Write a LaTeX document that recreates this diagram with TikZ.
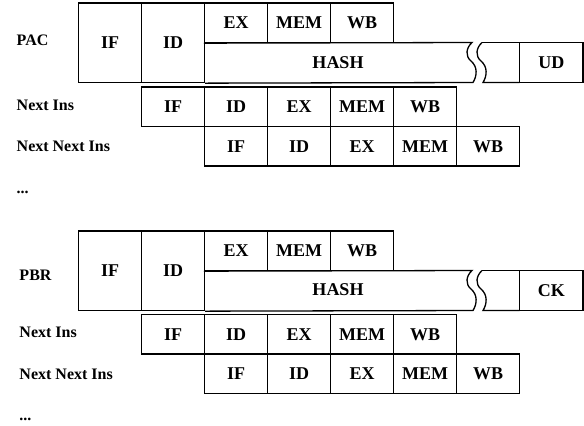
\documentclass[tikz,border=0pt]{standalone}
\usepackage{fontspec}
\setmainfont{Liberation Serif}
\begin{document}
\begin{tikzpicture}[x=1bp,y=-1bp,
  cell/.style={draw, line width=1.3bp, minimum width=63bp, minimum height=39.5bp, inner sep=0pt,
    font=\fontsize{18bp}{20bp}\selectfont\bfseries},
  tall/.style={cell, minimum height=79.5bp},
  txt/.style={inner sep=0pt, font=\fontsize{18bp}{20bp}\selectfont\bfseries},
  lbl/.style={inner sep=0pt, anchor=base west, font=\fontsize{16bp}{18bp}\selectfont\bfseries},
  outl/.style={line width=1.3bp}]
\useasboundingbox (0,0) rectangle (584,425);
% ---------- PAC section ----------
\node[lbl] (pac) at (16.5,45) {PAC};
\node[tall] (a-if) at (110,42.75) {IF};
\node[tall] (a-id) at (173,42.75) {ID};
\node[cell] (a-ex) at (236,22.75) {EX};
\node[cell] (a-mem) at (299,22.75) {MEM};
\node[cell] (a-wb) at (362,22.75) {WB};
\draw[outl] (a-ex.south west) -- (472,42.5)
  .. controls (466,48) and (465,56) .. (471,61)
  .. controls (478,67) and (477,76) .. (473,82.5) -- (a-id.south east);
\draw[outl] (482,42.5)
  .. controls (476,48) and (475,56) .. (481,61)
  .. controls (488,67) and (487,76) .. (483,82.5) -- (519.5,82.5);
\draw[outl] (482,42.5) -- (519.5,42.5);
\node[txt] (a-hash) at (338,62.5) {HASH};
\node[cell, minimum width=63.5bp] (a-ud) at (551.25,62.5) {UD};
\node[lbl] (a-n1) at (16.5,110.7) {Next Ins};
\node[cell] (a1-if) at (173,106.75) {IF};
\node[cell] (a1-id) at (236,106.75) {ID};
\node[cell] (a1-ex) at (299,106.75) {EX};
\node[cell] (a1-mem) at (362,106.75) {MEM};
\node[cell] (a1-wb) at (425,106.75) {WB};
\node[lbl] (a-n2) at (16.5,151.7) {Next Next Ins};
\node[cell] (a2-if) at (236,146.25) {IF};
\node[cell] (a2-id) at (299,146.25) {ID};
\node[cell] (a2-ex) at (362,146.25) {EX};
\node[cell] (a2-mem) at (425,146.25) {MEM};
\node[cell] (a2-wb) at (488,146.25) {WB};
\node[lbl] (a-dots) at (16.5,193) {...};
% ---------- PBR section ----------
\node[lbl] (pbr) at (19.3,280.7) {PBR};
\node[tall] (b-if) at (110,270.75) {IF};
\node[tall] (b-id) at (173,270.75) {ID};
\node[cell] (b-ex) at (236,250.75) {EX};
\node[cell] (b-mem) at (299,250.75) {MEM};
\node[cell] (b-wb) at (362,250.75) {WB};
\draw[outl] (b-ex.south west) -- (472,270.5)
  .. controls (466,276) and (465,284) .. (471,289)
  .. controls (478,295) and (477,304) .. (473,310.5) -- (b-id.south east);
\draw[outl] (482,270.5)
  .. controls (476,276) and (475,284) .. (481,289)
  .. controls (488,295) and (487,304) .. (483,310.5) -- (519.5,310.5);
\draw[outl] (482,270.5) -- (519.5,270.5);
\node[txt] (b-hash) at (338,289.5) {HASH};
\node[cell, minimum width=63.5bp] (b-ck) at (551.25,290.5) {CK};
\node[lbl] (b-n1) at (19.3,337.7) {Next Ins};
\node[cell] (b1-if) at (173,334.25) {IF};
\node[cell] (b1-id) at (236,334.25) {ID};
\node[cell] (b1-ex) at (299,334.25) {EX};
\node[cell] (b1-mem) at (362,334.25) {MEM};
\node[cell] (b1-wb) at (425,334.25) {WB};
\node[lbl] (b-n2) at (19.3,379) {Next Next Ins};
\node[cell] (b2-if) at (236,373.75) {IF};
\node[cell] (b2-id) at (299,373.75) {ID};
\node[cell] (b2-ex) at (362,373.75) {EX};
\node[cell] (b2-mem) at (425,373.75) {MEM};
\node[cell] (b2-wb) at (488,373.75) {WB};
\node[lbl] (b-dots) at (19.3,420.7) {...};
\end{tikzpicture}
\end{document}
